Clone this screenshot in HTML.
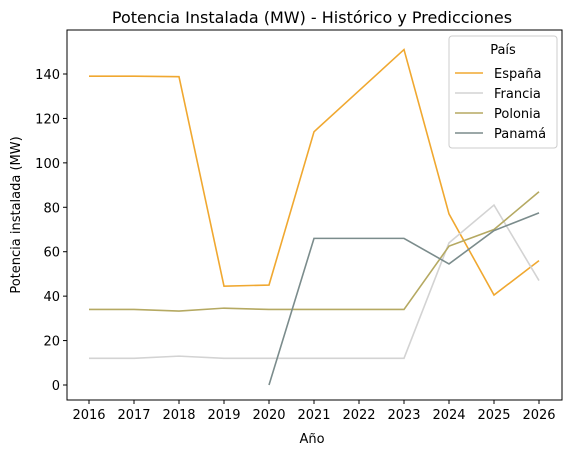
<!DOCTYPE html>
<html><head><meta charset="utf-8"><style>
body{margin:0;background:#fff;font-family:"Liberation Sans","DejaVu Sans",sans-serif;}
svg text{font-family:"DejaVu Sans","Liberation Sans",sans-serif;}
</style></head><body>
<svg id="chart" width="571" height="455" xmlns="http://www.w3.org/2000/svg">
<rect width="571" height="455" fill="#fff"/>
<text x="312" y="23" font-size="16" text-anchor="middle">Potencia Instalada (MW) - Histórico y Predicciones</text>
<text x="312" y="443" font-size="13" text-anchor="middle">Año</text>
<text x="20" y="215" font-size="13" text-anchor="middle" transform="rotate(-90 20 215)">Potencia instalada (MW)</text>
<g id="grid"></g><g id="series"></g>
<rect x="67" y="30" width="495" height="370" fill="none" stroke="#000" stroke-width="1"/>
<g id="legend"></g>
</svg>
<script>
const years=[2016,2017,2018,2019,2020,2021,2022,2023,2024,2025,2026];
const yTicks=[0,20,40,60,80,100,120,140];
const seriesNames=["España","Francia","Polonia","Panamá"];
const espana=[139,139,138.8,44.5,45,114,132.5,151,77,40.5,56];
const francia=[12,12,13,12,12,12,12,12,64,81,47];
const polonia=[34,34,33.3,34.6,34,34,34,34,62.5,70,87];
const panama=[null,null,null,null,0,66,66,66,54.5,69.5,77.5];
const colors=["#f0a830","#d3d3d3","#b5a962","#7b8c8c"];
const data=[espana,francia,polonia,panama];
const NS="http://www.w3.org/2000/svg";
const x=y=>89+(y-2016)*45;
const yy=v=>385-v*(311/140);
const g=document.getElementById('grid'),s=document.getElementById('series'),L=document.getElementById('legend');
function el(t,a,p){const e=document.createElementNS(NS,t);for(const k in a)e.setAttribute(k,a[k]);p.appendChild(e);return e;}
years.forEach(yr=>{
 const l=el('line',{x1:x(yr),x2:x(yr),y1:400,y2:404,stroke:'#000'},g);
 
 
 const t=el('text',{x:x(yr),y:419,'font-size':13,'text-anchor':'middle'},g);t.textContent=yr;
 
 
});
yTicks.forEach(v=>{
 const l=el('line',{x1:63,x2:67,y1:yy(v),y2:yy(v),stroke:'#000'},g);
 
 
 const t=el('text',{x:60,y:yy(v)+5,'font-size':13,'text-anchor':'end'},g);t.textContent=v;
 
 
});
data.forEach((arr,i)=>{
 const pts=[];arr.forEach((v,j)=>{if(v!==null)pts.push(x(years[j])+','+yy(v));});
 const p=el('polyline',{points:pts.join(' '),fill:'none',stroke:colors[i],'stroke-width':1.6},s);
 
 
});
const box=el('rect',{x:449,y:36,width:108,height:112,fill:'#fff',stroke:'#ccc',rx:3},L);


const lt=el('text',{x:503,y:54,'font-size':13,'text-anchor':'middle'},L);lt.textContent='País';


seriesNames.forEach((n,i)=>{
 const yv=73+i*20;
 const l=el('line',{x1:455,x2:483,y1:yv,y2:yv,stroke:colors[i],'stroke-width':1.6},L);
 
 
 const t=el('text',{x:494,y:yv+5,'font-size':13},L);t.textContent=n;
 
 
});
</script>
</body></html>
